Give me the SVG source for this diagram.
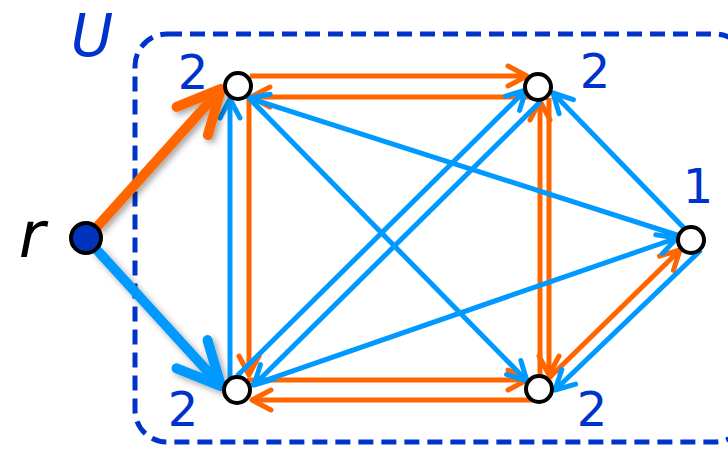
<svg xmlns="http://www.w3.org/2000/svg" width="728" height="459" viewBox="0 0 728 459">
<defs>
<style>
.lbl{font-family:"DejaVu Sans","Liberation Sans",sans-serif;fill:#0033cc;font-size:48px;text-anchor:middle}
.it{font-family:"DejaVu Sans","Liberation Sans",sans-serif;font-style:italic;text-anchor:middle}
.o{stroke:#ff6600;stroke-width:5;fill:none;marker-end:url(#ao)}
.b{stroke:#0099ff;stroke-width:5;fill:none;marker-end:url(#ab)}
.node{fill:#ffffff;stroke:#000000;stroke-width:4}
</style>
<marker id="ao" markerUnits="userSpaceOnUse" orient="auto" refX="0" refY="0" markerWidth="60" markerHeight="60" viewBox="-30 -30 60 60" overflow="visible">
<path d="M -19 -10 L 0 0 L -19 10" fill="none" stroke="#ff6600" stroke-width="5" stroke-linecap="round" stroke-linejoin="round"/>
</marker>
<marker id="ab" markerUnits="userSpaceOnUse" orient="auto" refX="0" refY="0" markerWidth="60" markerHeight="60" viewBox="-30 -30 60 60" overflow="visible">
<path d="M -19 -10 L 0 0 L -19 10" fill="none" stroke="#0099ff" stroke-width="5" stroke-linecap="round" stroke-linejoin="round"/>
</marker>
<marker id="aoT" markerUnits="userSpaceOnUse" orient="auto" refX="0" refY="0" markerWidth="120" markerHeight="120" viewBox="-60 -60 120 120" overflow="visible">
<path d="M -43 -21 L 0 0 L -43 21" fill="none" stroke="#ff6600" stroke-width="10" stroke-linecap="round" stroke-linejoin="round"/>
</marker>
<marker id="abT" markerUnits="userSpaceOnUse" orient="auto" refX="0" refY="0" markerWidth="120" markerHeight="120" viewBox="-60 -60 120 120" overflow="visible">
<path d="M -43 -21 L 0 0 L -43 21" fill="none" stroke="#0099ff" stroke-width="10" stroke-linecap="round" stroke-linejoin="round"/>
</marker>
<filter id="sh" x="-20%" y="-20%" width="140%" height="140%">
<feDropShadow dx="3" dy="3" stdDeviation="3" flood-color="#000000" flood-opacity="0.35"/>
</filter>
</defs>
<rect width="728" height="459" fill="#ffffff"/>
<g id="region-U">
<rect x="135" y="34" width="612" height="408" rx="32" fill="none" stroke="#0033cc" stroke-width="5" stroke-dasharray="15 8"/>
<text class="it" x="92" y="56" font-size="58" fill="#0033cc">U</text>
</g>
<g id="connectors">
<path class="o" d="M 250 76 L 527 76"/>
<path class="o" d="M 532 97 L 251 97"/>
<path class="o" d="M 249 98 L 249 375"/>
<path class="o" d="M 247 380 L 527 380"/>
<path class="o" d="M 533 400 L 252 400"/>
<path class="o" d="M 540 378 L 540 101"/>
<path class="o" d="M 549 98 L 549 375"/>
<path class="o" d="M 547 380 L 680 250"/>
<path class="b" d="M 230 378 L 230 99"/>
<path class="b" d="M 680 236 L 249 98"/>
<path class="b" d="M 249 98 L 527 381"/>
<path class="b" d="M 237 376 L 526 90"/>
<path class="b" d="M 541 101 L 254 385"/>
<path class="b" d="M 684 228 L 553 93"/>
<path class="b" d="M 249 386 L 677 238"/>
<path class="b" d="M 701 250 L 555 390"/>
<g filter="url(#sh)">
<path d="M 96 228 L 221 89" stroke="#ff6600" stroke-width="10" fill="none" marker-end="url(#aoT)"/>
<path d="M 96 249 L 221 386" stroke="#0099ff" stroke-width="10" fill="none" marker-end="url(#abT)"/>
</g>
</g>
<g id="node-r">
<circle cx="86" cy="238" r="15" fill="#0033bb" stroke="#000000" stroke-width="4"/>
<text class="it" x="32" y="257" font-size="64" fill="#000000">r</text>
</g>
<g id="node-a">
<circle class="node" cx="238" cy="86" r="13"/>
<text class="lbl" x="193" y="89">2</text>
</g>
<g id="node-b">
<circle class="node" cx="538" cy="87" r="13"/>
<text class="lbl" x="595" y="88">2</text>
</g>
<g id="node-c">
<circle class="node" cx="237" cy="390" r="13"/>
<text class="lbl" x="183" y="426">2</text>
</g>
<g id="node-d">
<circle class="node" cx="539" cy="389" r="13"/>
<text class="lbl" x="592" y="426">2</text>
</g>
<g id="node-e">
<circle class="node" cx="691" cy="240" r="13"/>
<text class="lbl" x="698" y="203">1</text>
</g>
</svg>
